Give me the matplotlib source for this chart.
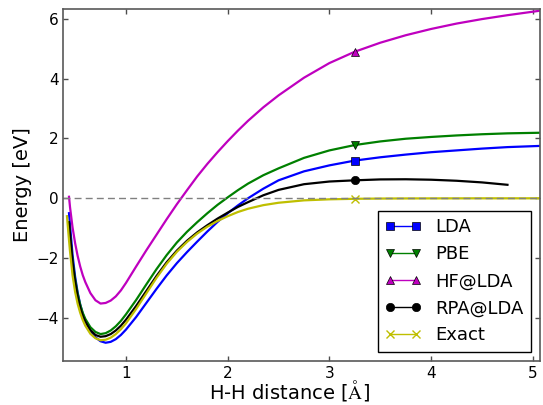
import matplotlib
matplotlib.use("Agg")
import matplotlib.pyplot as plt

plt.rcParams['font.family'] = ['DejaVu Sans']
plt.rcParams['mathtext.fontset'] = 'cm'

# H-H distance grid (Angstrom)
x = [0.44, 0.45, 0.475, 0.5, 0.525, 0.55, 0.575, 0.6, 0.65, 0.7, 0.75, 0.8, 0.85,
     0.9, 0.95, 1.0, 1.1, 1.2, 1.3, 1.4, 1.5, 1.6, 1.7, 1.8, 1.9, 2.0, 2.1, 2.2,
     2.35, 2.5, 2.75, 3.0, 3.25, 3.5, 3.75, 4.0, 4.25, 4.5, 4.75, 5.07]

lda = [-0.5, -0.9, -1.9, -2.62, -3.15, -3.55, -3.86, -4.09, -4.43, -4.65, -4.78,
       -4.83, -4.8, -4.71, -4.57, -4.39, -3.97, -3.5, -3.03, -2.58, -2.17, -1.8,
       -1.45, -1.11, -0.79, -0.5, -0.24, 0.0, 0.32, 0.6, 0.9, 1.1, 1.26, 1.37,
       1.46, 1.54, 1.6, 1.66, 1.71, 1.75]

pbe = [-0.85, -1.22, -2.1, -2.72, -3.2, -3.56, -3.83, -4.03, -4.31, -4.47, -4.54,
       -4.51, -4.42, -4.28, -4.1, -3.88, -3.4, -2.88, -2.37, -1.9, -1.48, -1.12,
       -0.8, -0.5, -0.22, 0.03, 0.27, 0.49, 0.77, 1.0, 1.35, 1.6, 1.78, 1.9,
       1.99, 2.05, 2.1, 2.14, 2.17, 2.19]

hf = [0.05, -0.3, -0.98, -1.5, -1.93, -2.28, -2.57, -2.8, -3.17, -3.41, -3.52,
      -3.5, -3.42, -3.28, -3.08, -2.83, -2.28, -1.74, -1.22, -0.7, -0.2, 0.27,
      0.73, 1.15, 1.54, 1.91, 2.26, 2.59, 3.04, 3.44, 4.03, 4.52, 4.9, 5.2,
      5.45, 5.66, 5.84, 5.99, 6.12, 6.27]

x_rpa = x[:-1]
rpa = [-0.8, -1.2, -2.15, -2.8, -3.3, -3.66, -3.93, -4.12, -4.41, -4.57, -4.63,
       -4.61, -4.54, -4.42, -4.26, -4.06, -3.6, -3.1, -2.6, -2.14, -1.75, -1.42,
       -1.14, -0.9, -0.68, -0.48, -0.29, -0.13, 0.1, 0.28, 0.47, 0.56, 0.6, 0.63,
       0.635, 0.62, 0.585, 0.53, 0.45]

x_exact = [0.42] + x
exact = [-0.6, -1.4, -1.78, -2.58, -3.13, -3.53, -3.83, -4.07, -4.26, -4.53, -4.68,
         -4.745, -4.73, -4.66, -4.54, -4.38, -4.18, -3.7, -3.18, -2.66, -2.19,
         -1.79, -1.46, -1.18, -0.95, -0.76, -0.6, -0.46, -0.35, -0.23, -0.15,
         -0.07, -0.035, -0.018, -0.01, -0.006, -0.004, -0.003, -0.002, -0.002,
         -0.001]

mark_x = 3.25
series = [
    (x, lda, 'b', 's', 'LDA'),
    (x, pbe, 'g', 'v', 'PBE'),
    (x, hf, 'm', '^', 'HF@LDA'),
    (x_rpa, rpa, 'k', 'o', 'RPA@LDA'),
    (x_exact, exact, 'y', 'x', 'Exact'),
]

fig = plt.figure(figsize=(5.43, 4.05), dpi=100)
ax = fig.add_axes([0.1166, 0.1094, 0.9945 - 0.1166, 0.978 - 0.1094])

for xs, ys, c, m, lab in series:
    ax.plot(xs, ys, color=c, lw=1.6)
for xs, ys, c, m, lab in series:
    i = xs.index(mark_x)
    ax.plot([xs[i]], [ys[i]], color=c, marker=m, ms=6, lw=1,
            mec=('k' if m != 'x' else c), mew=(0.5 if m != 'x' else 1.0), label=lab)

ax.axhline(0, color='0.5', ls=(0, (5, 3)), lw=1, zorder=2.5)

ax.set_xlim(0.384, 5.07)
ax.set_ylim(-5.43, 6.33)
ax.set_xticks([1, 2, 3, 4, 5])
ax.set_yticks([-4, -2, 0, 2, 4, 6])
ax.tick_params(direction='in', top=True, right=True, length=3.5, width=1,
               color='0.3', labelsize=11, pad=3.5)
for s in ax.spines.values():
    s.set_color('0.35')
    s.set_linewidth(1.2)

ax.set_xlabel(r'H-H distance [$\mathrm{\AA}$]', fontsize=14)
ax.xaxis.set_label_coords(0.475, -0.05)
ax.set_ylabel('Energy [eV]', fontsize=14, labelpad=3)

leg = ax.legend(loc='lower right', numpoints=2, fontsize=13, fancybox=False,
                framealpha=1, borderaxespad=0.5)
leg.get_frame().set_edgecolor('k')
leg.get_frame().set_linewidth(1)

fig.savefig('out.png', dpi=100)
